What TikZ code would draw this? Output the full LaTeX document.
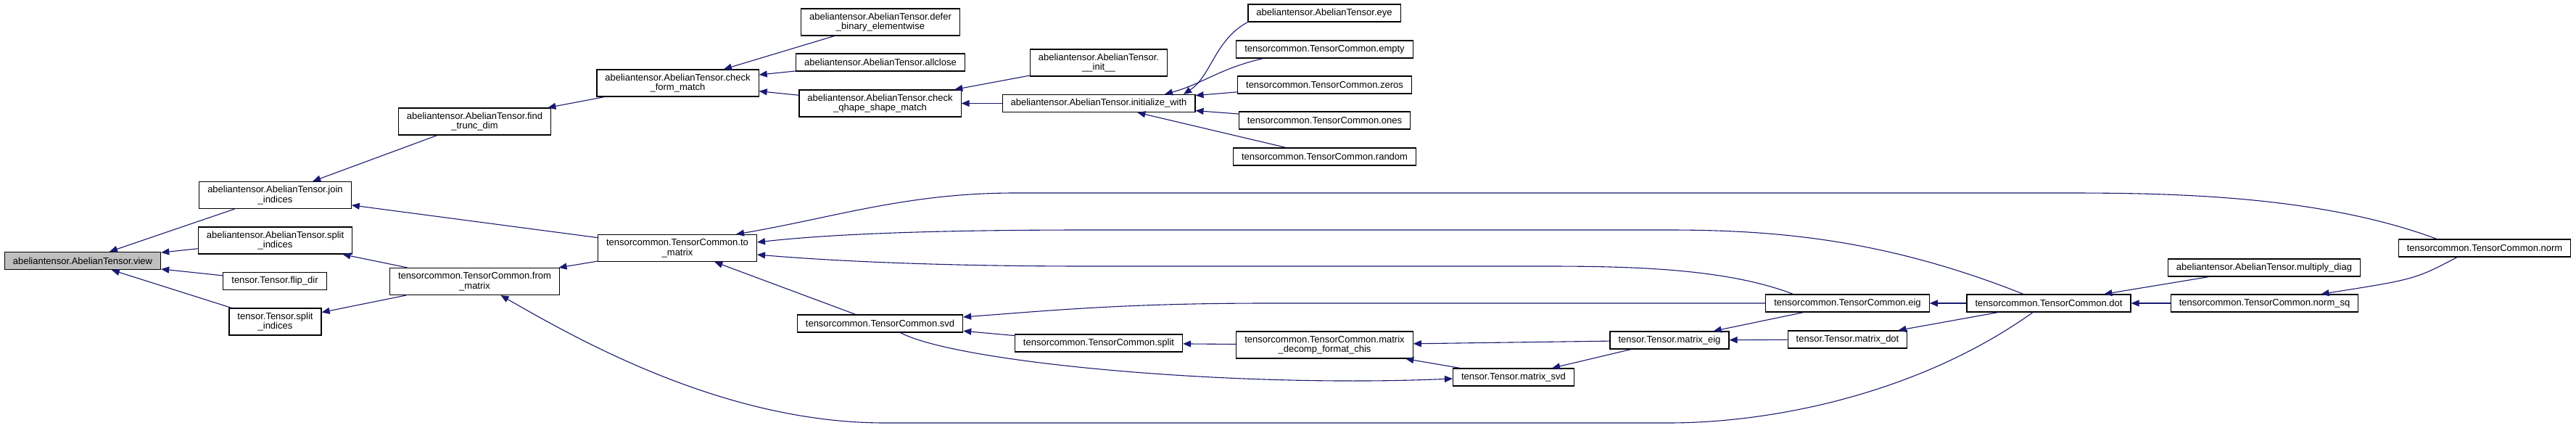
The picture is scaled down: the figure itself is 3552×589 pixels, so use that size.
\documentclass[tikz,border=0pt]{standalone}
\usepackage{fontspec}
\setmainfont{Liberation Sans}
\usetikzlibrary{arrows.meta}
\definecolor{edgeblue}{HTML}{191970}
\definecolor{selgray}{HTML}{BFBFBF}
\tikzset{
  fn/.style={draw=black,line width=1.2pt,fill=white,align=center,inner xsep=11.5pt,inner ysep=3pt,minimum height=24pt,font=\fontsize{13}{13.5}\selectfont},
  fntwo/.style={fn,minimum height=37pt},
  fnsel/.style={fn,fill=selgray},
  call/.style={draw=edgeblue,line width=1.1pt,-{Triangle[length=11pt,width=9pt]}}
}
\begin{document}
\begin{tikzpicture}[x=1pt,y=-1pt]
    \useasboundingbox (0,0) rectangle (3552,589);

    \node[fnsel] (view) at (114,359.5) {abeliantensor.AbelianTensor.view};

    \node[fntwo] (join) at (379.5,269) {abeliantensor.AbelianTensor.join\\\_indices};
    \node[fntwo] (atsplit) at (379.5,331.5) {abeliantensor.AbelianTensor.split\\\_indices};
    \node[fn] (flip) at (379,387.5) {tensor.Tensor.flip\_dir};
    \node[fntwo] (tsplit) at (379.5,443.5) {tensor.Tensor.split\\\_indices};

    \node[fntwo] (findtr) at (654.5,167.5) {abeliantensor.AbelianTensor.find\\\_trunc\_dim};
    \node[fntwo] (frommat) at (654.5,388) {tensorcommon.TensorCommon.from\\\_matrix};

    \node[fntwo] (checkform) at (934.5,114.5) {abeliantensor.AbelianTensor.check\\\_form\_match};
    \node[fntwo] (tomat) at (934,342) {tensorcommon.TensorCommon.to\\\_matrix};

    \node[fntwo] (defer) at (1214,30.5) {abeliantensor.AbelianTensor.defer\\\_binary\_elementwise};
    \node[fn] (allclose) at (1214,86) {abeliantensor.AbelianTensor.allclose};
    \node[fntwo] (qhape) at (1213.5,142.5) {abeliantensor.AbelianTensor.check\\\_qhape\_shape\_match};
    \node[fn] (svd) at (1213.5,446) {tensorcommon.TensorCommon.svd};

    \node[fntwo] (init) at (1515,86.5) {abeliantensor.AbelianTensor.\\\_\_init\_\_};
    \node[fn] (initw) at (1515,142.5) {abeliantensor.AbelianTensor.initialize\_with};
    \node[fn] (tcsplit) at (1515,473) {tensorcommon.TensorCommon.split};

    \node[fn] (eye) at (1826,18) {abeliantensor.AbelianTensor.eye};
    \node[fn] (empty) at (1826.5,68) {tensorcommon.TensorCommon.empty};
    \node[fn] (zeros) at (1826.5,117) {tensorcommon.TensorCommon.zeros};
    \node[fn] (ones) at (1826.5,166) {tensorcommon.TensorCommon.ones};
    \node[fn] (random) at (1826.5,216) {tensorcommon.TensorCommon.random};
    \node[fntwo] (decomp) at (1826.5,475.5) {tensorcommon.TensorCommon.matrix\\\_decomp\_format\_chis};

    \node[fn] (msvd) at (2087,520) {tensor.Tensor.matrix\_svd};
    \node[fn] (meig) at (2302,469) {tensor.Tensor.matrix\_eig};
    \node[fn] (eig) at (2547.5,418) {tensorcommon.TensorCommon.eig};
    \node[fn] (mdot) at (2547.5,468) {tensor.Tensor.matrix\_dot};
    \node[fn] (dot) at (2825,418) {tensorcommon.TensorCommon.dot};

    \node[fn] (mdiag) at (3122,369) {abeliantensor.AbelianTensor.multiply\_diag};
    \node[fn] (normsq) at (3122.5,418) {tensorcommon.TensorCommon.norm\_sq};
    \node[fn] (norm) at (3426,342) {tensorcommon.TensorCommon.norm};

    \draw[call] (join) -- (view);
    \draw[call] (atsplit) -- (view);
    \draw[call] (flip) -- (view);
    \draw[call] (tsplit) -- (view);
    \draw[call] (findtr) -- (join);
    \draw[call] (tomat) -- (join);
    \draw[call] (frommat) -- (atsplit);
    \draw[call] (frommat) -- (tsplit);
    \draw[call] (checkform) -- (findtr);
    \draw[call] (tomat) -- (frommat);
    \draw[call] (defer) -- (checkform);
    \draw[call] (allclose) -- (checkform);
    \draw[call] (qhape) -- (checkform);
    \draw[call] (svd) -- (tomat);
    \draw[call] (init) -- (qhape);
    \draw[call] (initw) -- (qhape);
    \draw[call] (tcsplit) -- (svd);
    \draw[call] (eye.south west) .. controls (1675,55) and (1670,105) .. ([xshift=117pt]initw.north);
    \draw[call] ([xshift=-85pt]empty.south) .. controls (1680,95) and (1660,115) .. ([xshift=91pt]initw.north);
    \draw[call] (zeros) -- (initw);
    \draw[call] (ones) -- (initw);
    \draw[call] (random) -- (initw);
    \draw[call] (decomp) -- (tcsplit);
    \draw[call] ([xshift=28pt]svd.south) .. controls (1320,500) and (1700,535) .. ([yshift=-2pt]msvd.west);
    \draw[call] (msvd) -- (decomp);
    \draw[call] (meig) -- (decomp);
    \draw[call] (meig) -- (msvd);
    \draw[call] (eig) -- (meig);
    \draw[call] (mdot) -- (meig);
    \draw[call] (eig.west) -- (1750,418) .. controls (1550,418) and (1450,428) .. ([yshift=9pt]svd.east);
    \draw[call] ([xshift=-75pt]eig.north) .. controls (2380,370) and (2250,367) .. (2130,367) -- (1500,367) .. controls (1300,367) and (1150,360) .. ([yshift=-9pt]tomat.east);
    \draw[call] (dot) -- (eig);
    \draw[call] (dot) -- (mdot);
    \draw[call] ([xshift=-35pt]dot.north) .. controls (2600,330) and (2450,317) .. (2300,317) -- (1500,317) .. controls (1300,317) and (1150,322) .. ([yshift=8pt]tomat.east);
    \draw[call] ([xshift=-22pt]dot.south) .. controls (2650,540) and (2450,583) .. (2300,583) -- (1220,583) .. controls (1000,583) and (800,470) .. ([xshift=36pt]frommat.south);
    \draw[call] (mdiag) -- (dot);
    \draw[call] (normsq) -- (dot);
    \draw[call] ([xshift=-38pt]norm.south) .. controls (3330,385) .. ([xshift=78pt]normsq.north);
    \draw[call] ([xshift=-66pt]norm.north) .. controls (3200,270) and (3000,266) .. (2850,266) -- (1400,266) .. controls (1250,266) and (1150,300) .. ([xshift=81pt]tomat.north);
\end{tikzpicture}
\end{document}
